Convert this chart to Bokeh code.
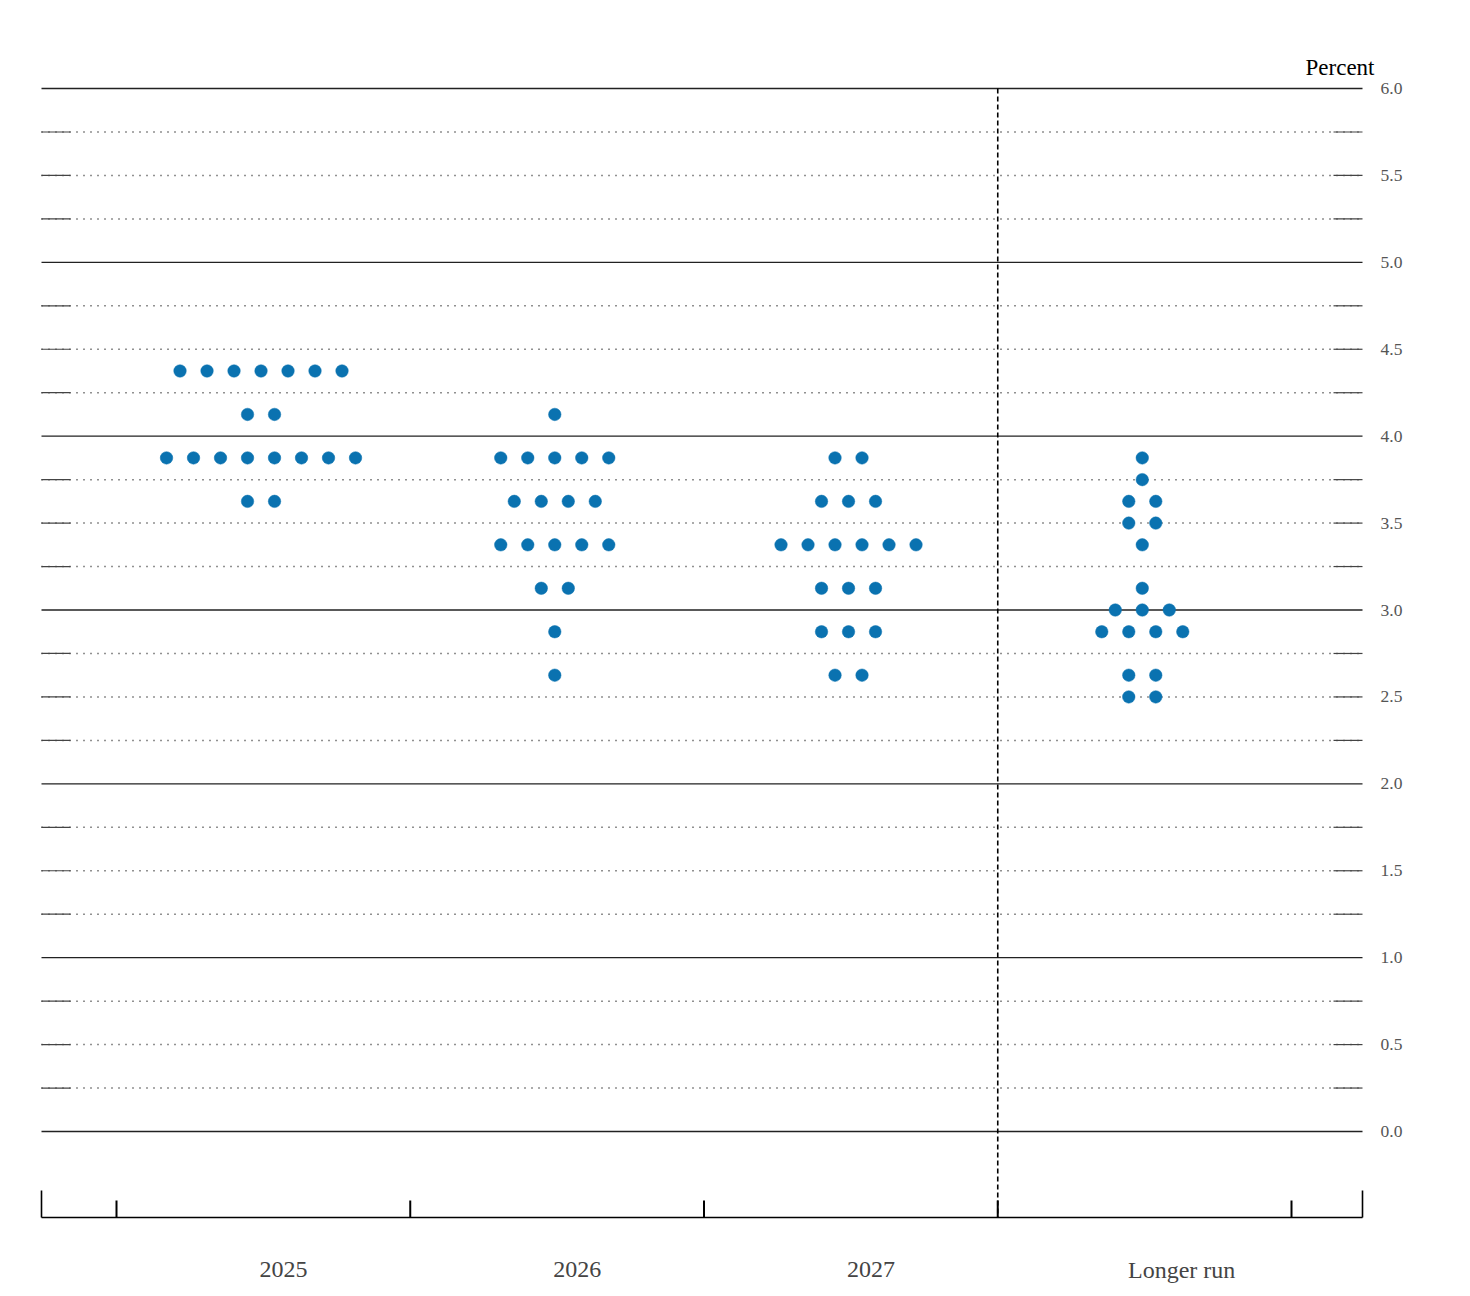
from bokeh.plotting import figure
from bokeh.models import Range1d
from bokeh.embed import file_html
from bokeh.resources import INLINE
from bokeh.core.properties import value

# ---------------- data ----------------
categories = ["2025", "2026", "2027", "Longer run"]

rates_2025 = [4.375, 4.125, 3.875, 3.625]
counts_2025 = [7, 2, 8, 2]

rates_2026 = [4.125, 3.875, 3.625, 3.375, 3.125, 2.875, 2.625]
counts_2026 = [1, 5, 4, 5, 2, 1, 1]

rates_2027 = [3.875, 3.625, 3.375, 3.125, 2.875, 2.625]
counts_2027 = [2, 3, 6, 3, 3, 2]

rates_lr = [3.875, 3.75, 3.625, 3.5, 3.375, 3.125, 3.0, 2.875, 2.625, 2.5]
counts_lr = [1, 1, 2, 2, 1, 1, 3, 4, 2, 2]

y_tick_values = [0.0, 0.5, 1.0, 1.5, 2.0, 2.5, 3.0, 3.5, 4.0, 4.5, 5.0, 5.5, 6.0]
y_tick_labels = ["0.0", "0.5", "1.0", "1.5", "2.0", "2.5", "3.0", "3.5", "4.0", "4.5", "5.0", "5.5", "6.0"]
grid_step = 0.25
y_max = 6.0

# ---------------- layout helpers (screen pixels -> data) ----------------
W, H = 1454, 1292
PX_PER_CAT = 293.75
PX_PER_PCT = 173.83
X_TICK0 = 116.0   # px of first category boundary (-0.5)
Y_ZERO = 1131.0   # px of 0 percent

def dx(px):
    return (px - X_TICK0) / PX_PER_CAT - 0.5

def dy(py):
    return (Y_ZERO - py) / PX_PER_PCT

p = figure(width=W, height=H, output_backend="svg", toolbar_location=None,
           x_range=Range1d(dx(0), dx(W)), y_range=Range1d(dy(H), dy(0)),
           min_border=0, min_border_left=0, min_border_right=0,
           min_border_top=0, min_border_bottom=0)
p.axis.visible = False
p.grid.visible = False
p.outline_line_color = None
p.background_fill_color = "white"
p.border_fill_color = "white"

FONT = value("Liberation Serif")
x_left, x_right = dx(41), dx(1362)
end_w = 29 / PX_PER_CAT

# horizontal grid lines
n_lines = int(round(y_max / grid_step))
solid_y, dotted_y = [], []
for k in range(n_lines + 1):
    v = k * grid_step
    (solid_y if abs(v - round(v)) < 1e-9 else dotted_y).append(v)

p.segment(x0=[x_left] * len(dotted_y), x1=[x_right] * len(dotted_y), y0=dotted_y, y1=dotted_y,
          line_color="#222222", line_width=1.5, line_dash="1 6")
# short solid ends
p.segment(x0=[x_left] * len(dotted_y), x1=[x_left + end_w] * len(dotted_y), y0=dotted_y, y1=dotted_y,
          line_color="#444444", line_width=1.2)
p.segment(x0=[x_right - end_w] * len(dotted_y), x1=[x_right] * len(dotted_y), y0=dotted_y, y1=dotted_y,
          line_color="#444444", line_width=1.2)
p.segment(x0=[x_left] * len(solid_y), x1=[x_right] * len(solid_y), y0=solid_y, y1=solid_y,
          line_color="#222222", line_width=1.3)

# vertical dashed separator before "Longer run"
sep_x = len(categories) - 1.5
axis_y = dy(1217)
p.segment(x0=[sep_x], x1=[sep_x], y0=[y_max], y1=[axis_y],
          line_color="black", line_width=1.6, line_dash="5 3")

# bottom axis
p.segment(x0=[x_left], x1=[x_right], y0=[axis_y], y1=[axis_y], line_color="black", line_width=1.6)
bounds = [i - 0.5 for i in range(len(categories) + 1)]
p.segment(x0=bounds, x1=bounds, y0=[axis_y] * len(bounds), y1=[dy(1200)] * len(bounds),
          line_color="black", line_width=2)
p.segment(x0=[x_left, x_right], x1=[x_left, x_right], y0=[axis_y] * 2, y1=[dy(1190)] * 2,
          line_color="black", line_width=1.6)

# dots
dot_gap = 27 / PX_PER_CAT
xs, ys = [], []
for ci, (rates, counts) in enumerate([(rates_2025, counts_2025), (rates_2026, counts_2026),
                                      (rates_2027, counts_2027), (rates_lr, counts_lr)]):
    for r, n in zip(rates, counts):
        for i in range(n):
            xs.append(ci - 0.008 + (i - (n - 1) / 2) * dot_gap)
            ys.append(r)
p.scatter(x=xs, y=ys, size=12.5, fill_color="#0a72b0", line_color="#0a72b0", line_width=0.5)

# y tick labels (right)
p.text(x=[dx(1380)] * len(y_tick_values), y=y_tick_values, text=y_tick_labels,
       text_font=FONT, text_font_size="17.5px", text_color="#555555",
       text_align="left", text_baseline="middle")

# "Percent"
p.text(x=[dx(1374)], y=[dy(67)], text=["Percent"], text_font=FONT, text_font_size="23px",
       text_color="black", text_align="right", text_baseline="middle")

# category labels
label_offsets = [20, 20, 20, 37]
cat_x = [i + label_offsets[i] / PX_PER_CAT for i in range(len(categories))]
p.text(x=cat_x, y=[dy(1269)] * len(categories), text=categories, text_font=FONT,
       text_font_size="24px", text_color="#444444", text_align="center", text_baseline="middle")

open("out.html", "w").write(file_html(p, INLINE))
